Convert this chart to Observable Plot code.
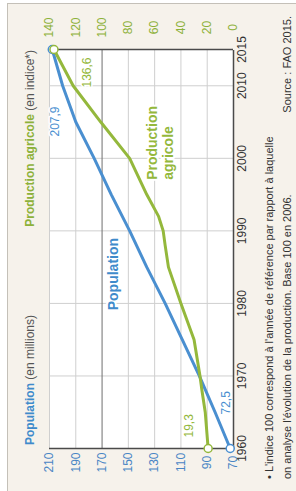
<!DOCTYPE html>
<html><head><meta charset="utf-8">
<script src="https://cdn.jsdelivr.net/npm/d3@7"></script>
<script src="https://cdn.jsdelivr.net/npm/@observablehq/plot@0.6"></script>
<style>
html,body{margin:0;padding:0;background:#ffffff;width:296px;height:491px;overflow:hidden;}
#wrap{position:absolute;left:0;top:0;width:491px;height:296px;transform-origin:0 0;transform:translate(0px,491px) rotate(-90deg);font-family:"Liberation Sans",Arial,sans-serif;}
#bg{position:absolute;left:0;top:7px;width:487px;height:289px;background:#f6f2eb;border-top:1px solid #c4c0b8;border-right:1px solid #c4c0b8;}
#chart{position:absolute;left:0;top:0;}
.t{position:absolute;white-space:nowrap;font-size:12px;line-height:14px;}
.ttl{top:23px;font-weight:bold;}
.fn{position:absolute;white-space:nowrap;font-size:11px;line-height:18px;color:#333;}
</style>
</head><body>
<div id="wrap">
  <div id="bg"></div>
  <div id="chart"></div>
  <div class="t ttl" style="left:46px;"><span style="color:#3f8bcb">Population</span> <span style="color:#555;font-weight:normal">(en millions)</span></div>
  <div class="t ttl" style="right:50px;"><span style="color:#8db13a">Production agricole</span> <span style="color:#555;font-weight:normal">(en indice*)</span></div>
  <div class="fn" style="left:12px;top:260px;">• L'indice 100 correspond à l'année de référence par rapport à laquelle<br>on analyse l'évolution de la production. Base 100 en 2006.</div>
  <div class="fn" style="right:16px;top:278px;">Source : FAO 2015.</div>
</div>
<script>
// Data
const popYears = [1960,1965,1970,1975,1980,1985,1990,1995,2000,2005,2010,2015];
const population = [72.5,84,96,109,122,136,149,163,176,190,200,207.9];
const prodYears = [1960,1965,1968,1970,1975,1980,1985,1988,1990,1992,1995,2000,2005,2010,2015];
const production = [19.3,21.5,24,25.5,30,40,49.5,52,53.5,57,66,79,101,122,136.6];
const yearTicks = [1960,1970,1980,1990,2000,2010,2015];
const popTicks = [70,90,110,130,150,170,190,210];
const prodTicks = [0,20,40,60,80,100,120,140];
const popLabels = ["72,5","207,9"];
const prodLabels = ["19,3","136,6"];

const OFFSET = 70; // production index shares the population scale shifted by 70
const BLUE = "#4a8fd0", GREEN = "#94b83c";

const pop = popYears.map((y,i)=>({year:y, value:population[i]}));
const prod = prodYears.map((y,i)=>({year:y, value:production[i]+OFFSET, raw:production[i]}));
const popEnds = [pop[0], pop[pop.length-1]];
const prodEnds = [prod[0], prod[prod.length-1]];

const chart = Plot.plot({
  width: 491, height: 296,
  marginLeft: 42, marginRight: 50, marginTop: 49, marginBottom: 63,
  style: {background: "transparent", fontFamily: "Liberation Sans, Arial, sans-serif"},
  x: {domain: [1960, 2015], label: null},
  y: {domain: [70, 210], label: null},
  marks: [
    Plot.frame({fill: "white", stroke: null}),
    Plot.ruleY(popTicks.filter(d => d !== 70 && d !== 170), {stroke: "#cfcfcf", strokeWidth: 1}),
    Plot.ruleX(yearTicks.filter(d => d !== 1960 && d !== 2015), {stroke: "#cfcfcf", strokeWidth: 1}),
    Plot.ruleY([170], {stroke: "#6e6e6e", strokeWidth: 1}),
    Plot.ruleY([70], {stroke: "#4a4a4a", strokeWidth: 1.5}),
    Plot.ruleX([1960, 2015], {stroke: "#4a4a4a", strokeWidth: 1.5}),
    Plot.text([pop[5]], {x: "year", y: "value", text: () => "Population", dx: -7, dy: -33, fill: "#3f8bcb", fontSize: 14, fontWeight: "bold", stroke: "white", strokeWidth: 4}),
    Plot.text([prod[8]], {x: "year", y: "value", text: () => "Production\nagricole", textAnchor: "start", lineHeight: 1.15, dx: 51, dy: -3, fill: GREEN, fontSize: 14, fontWeight: "bold", stroke: "white", strokeWidth: 4}),
    Plot.line(pop, {x: "year", y: "value", stroke: BLUE, strokeWidth: 3}),
    Plot.line(prod, {x: "year", y: "value", stroke: GREEN, strokeWidth: 3}),
    Plot.dot(popEnds, {x: "year", y: "value", r: 4, fill: "white", stroke: BLUE, strokeWidth: 1.5}),
    Plot.dot(prodEnds, {x: "year", y: "value", r: 4, fill: "white", stroke: GREEN, strokeWidth: 1.5}),
    Plot.text([popEnds[0]], {x: "year", y: "value", text: () => popLabels[0], textAnchor: "start", dx: 34, dy: -4, fill: BLUE, fontSize: 12}),
    Plot.text([popEnds[1]], {x: "year", y: "value", text: () => popLabels[1], textAnchor: "end", dx: -57, dy: 3, fill: BLUE, fontSize: 12, stroke: "white", strokeWidth: 3}),
    Plot.text([prodEnds[0]], {x: "year", y: "value", text: () => prodLabels[0], textAnchor: "start", dx: 11, dy: -19, fill: GREEN, fontSize: 12}),
    Plot.text([prodEnds[1]], {x: "year", y: "value", text: () => prodLabels[1], textAnchor: "end", dx: -8, dy: 33, fill: GREEN, fontSize: 12, stroke: "white", strokeWidth: 3}),
    Plot.axisX(yearTicks, {anchor: "bottom", label: null, tickSize: 0, tickPadding: 4, tickFormat: d => String(d), fontSize: 12, fill: "#333"}),
    Plot.axisY(popTicks, {anchor: "left", label: null, tickSize: 0, tickPadding: 14, textAnchor: "middle", fontSize: 12, fill: "#4a86c5"}),
    Plot.axisY(prodTicks.map(d => d + OFFSET), {anchor: "right", label: null, tickSize: 0, tickPadding: 22, textAnchor: "middle", tickFormat: d => String(d - OFFSET), fontSize: 12, fill: "#8db13a"})
  ]
});
document.getElementById("chart").appendChild(chart);
</script>
</body></html>
